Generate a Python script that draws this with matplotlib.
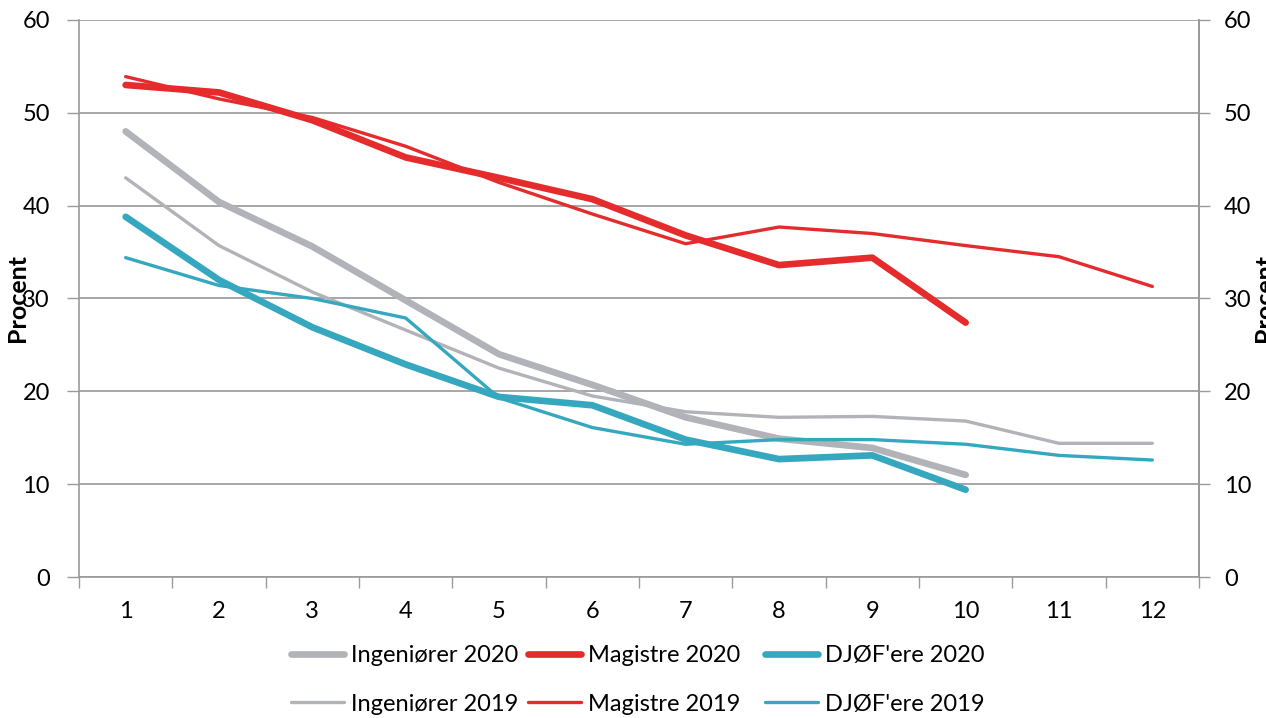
import matplotlib
matplotlib.use("Agg")
import matplotlib.pyplot as plt
from matplotlib.ticker import FixedLocator

plt.rcParams['font.family'] = ['Lato', 'DejaVu Sans']

categories = ["1", "2", "3", "4", "5", "6", "7", "8", "9", "10", "11", "12"]
ing_2020 = [48.0, 40.4, 35.6, 29.8, 24.0, 20.7, 17.2, 14.9, 13.9, 11.0]
mag_2020 = [53.0, 52.2, 49.2, 45.2, 43.0, 40.7, 36.8, 33.6, 34.4, 27.4]
djf_2020 = [38.8, 32.0, 26.9, 22.9, 19.4, 18.5, 14.8, 12.7, 13.1, 9.4]
ing_2019 = [43.0, 35.7, 30.7, 26.6, 22.5, 19.5, 17.8, 17.2, 17.3, 16.8, 14.4, 14.4]
mag_2019 = [53.9, 51.5, 49.5, 46.4, 42.5, 39.1, 35.9, 37.7, 37.0, 35.7, 34.5, 31.3]
djf_2019 = [34.4, 31.4, 30.0, 27.9, 19.3, 16.1, 14.3, 14.8, 14.8, 14.3, 13.1, 12.6]

GRAY = "#B1B3B9"
RED = "#E52B2C"
TEAL = "#35A7BF"
AX = "#9A9A9A"
THICK = 4.8
THIN = 2.4
FS = 17

fig = plt.figure(figsize=(12.66, 7.18), dpi=100)
ax = fig.add_axes([79/1266, 1-577/718, (1199-79)/1266, (577-20)/718])

def xs(vals):
    return list(range(1, len(vals) + 1))

kw = dict(solid_capstyle='round', solid_joinstyle='round', zorder=3)
l_ing20, = ax.plot(xs(ing_2020), ing_2020, color=GRAY, lw=THICK, **kw)
l_ing19, = ax.plot(xs(ing_2019), ing_2019, color=GRAY, lw=THIN, **kw)
l_mag20, = ax.plot(xs(mag_2020), mag_2020, color=RED, lw=THICK, **kw)
l_mag19, = ax.plot(xs(mag_2019), mag_2019, color=RED, lw=THIN, **kw)
l_djf20, = ax.plot(xs(djf_2020), djf_2020, color=TEAL, lw=THICK, **kw)
l_djf19, = ax.plot(xs(djf_2019), djf_2019, color=TEAL, lw=THIN, **kw)

ax.set_xlim(0.5, 12.5)
ax.set_ylim(0, 60)
ax.set_yticks(range(0, 61, 10))
ax.set_xticks(range(1, 13))
ax.set_xticklabels(categories)
ax.xaxis.set_minor_locator(FixedLocator([i + 0.5 for i in range(0, 13)]))
ax.tick_params(axis='x', which='major', length=0, pad=17, labelsize=FS)
ax.tick_params(axis='x', which='minor', length=8, width=1, color=AX, direction='out')
ax.tick_params(axis='y', which='major', length=9, width=1, color=AX, pad=12, labelsize=FS)
ax.grid(axis='y', color="#8E8E8E", lw=1.1, zorder=1)
ax.set_axisbelow(True)
ax.spines['top'].set_visible(False)
for s in ['left', 'right', 'bottom']:
    ax.spines[s].set_color(AX)
    ax.spines[s].set_linewidth(1.2)

ax2 = ax.twinx()
ax2.set_ylim(0, 60)
ax2.set_yticks(range(0, 61, 10))
ax2.tick_params(axis='y', length=8, width=1, color=AX, pad=10, labelsize=FS)
for s in ['top', 'left', 'bottom']:
    ax2.spines[s].set_visible(False)
ax2.spines['right'].set_color(AX)
ax2.spines['right'].set_linewidth(1.2)

fig.text(18/1266, 1-298/718, "Procent", rotation=90, ha='center', va='center', fontsize=18, fontweight='bold')
fig.text(1265/1266, 1-298/718, "Procent", rotation=90, ha='center', va='center', fontsize=18, fontweight='bold')

groups = [
    ([l_ing20, l_ing19], ["Ingeniører 2020", "Ingeniører 2019"], 291),
    ([l_mag20, l_mag19], ["Magistre 2020", "Magistre 2019"], 528),
    ([l_djf20, l_djf19], ["DJØF'ere 2020", "DJØF'ere 2019"], 765),
]
for hs, ls, x0 in groups:
    fig.legend(hs, ls, ncol=1, loc='center left', bbox_to_anchor=(x0/1266, 1-680/718),
               frameon=False, fontsize=FS, handlelength=2.25, handletextpad=0.3,
               labelspacing=1.16, borderpad=0, borderaxespad=0)

fig.savefig("out.png", dpi=100)
